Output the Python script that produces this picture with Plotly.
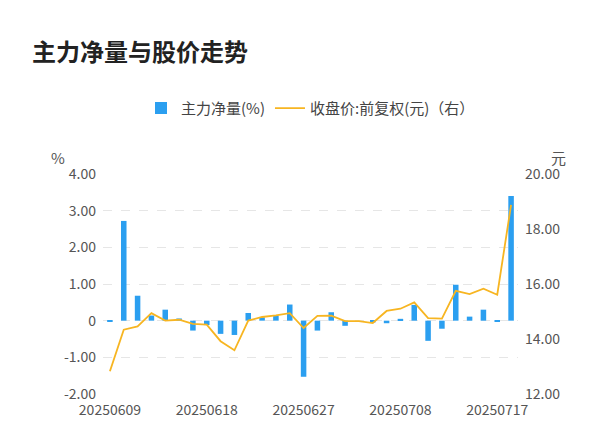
import plotly.graph_objects as go

# 交易日期
dates = ["20250609", "20250610", "20250611", "20250612", "20250613",
         "20250616", "20250617", "20250618", "20250619", "20250620",
         "20250623", "20250624", "20250625", "20250626", "20250627",
         "20250630", "20250701", "20250702", "20250703", "20250704",
         "20250707", "20250708", "20250709", "20250710", "20250711",
         "20250714", "20250715", "20250716", "20250717", "20250718"]
# 主力净量(%)
net_vol = [-0.03, 2.72, 0.68, 0.14, 0.30, 0.06, -0.27, -0.12, -0.36, -0.39,
           0.21, 0.09, 0.14, 0.44, -1.53, -0.27, 0.23, -0.14, 0.0, -0.05,
           -0.07, 0.05, 0.43, -0.55, -0.22, 0.98, 0.11, 0.30, -0.02, 3.40]
# 收盘价:前复权(元)
price = [12.83, 14.34, 14.46, 14.94, 14.67, 14.70, 14.55, 14.52, 13.92, 13.59,
         14.67, 14.80, 14.86, 14.94, 14.40, 14.84, 14.85, 14.65, 14.65, 14.58,
         15.02, 15.10, 15.33, 14.76, 14.74, 15.75, 15.63, 15.83, 15.61, 18.88]

left_ticks = [-2, -1, 0, 1, 2, 3, 4]
left_text = ["-2.00", "-1.00", "0", "1.00", "2.00", "3.00", "4.00"]
right_ticks = [12, 14, 16, 18, 20]
right_text = ["12.00", "14.00", "16.00", "18.00", "20.00"]
tick_dates = dates[0::7]

fig = go.Figure()
fig.add_trace(go.Bar(x=dates, y=net_vol, name="主力净量(%)",
                     marker=dict(color="#2b9ff0", line=dict(width=0)), width=0.4))
fig.add_trace(go.Scatter(x=dates, y=price, name="收盘价:前复权(元)（右）", yaxis="y2",
                         mode="lines", line=dict(color="#f7b521", width=1.8)))

fig.update_layout(
    width=600, height=446, plot_bgcolor="white", paper_bgcolor="white",
    font=dict(family="Noto Sans CJK SC, Roboto", color="#666666", size=14),
    margin=dict(l=95, r=90, t=166, b=60, autoexpand=False),
    title=dict(text="<b>主力净量与股价走势</b>", x=0.04, y=0.9, yref="container",
               xanchor="left", yanchor="middle",
               font=dict(size=24, color="#222222")),
    legend=dict(orientation="h", x=0.5, xanchor="center", y=0.775, yref="container",
                yanchor="middle", font=dict(size=15, color="#444444"), itemwidth=30),
    showlegend=True, bargap=0.5,
    xaxis=dict(type="category", tickmode="array", tickvals=tick_dates, ticktext=tick_dates,
               showgrid=False, ticks="", ticklabelstandoff=6,
               tickfont=dict(size=14, color="#555555")),
    yaxis=dict(range=[-2, 4], tickvals=left_ticks, ticktext=left_text, showgrid=True,
               gridcolor="#e6e6e6", griddash="dash", zeroline=False,
               ticklabelstandoff=6, tickfont=dict(size=14, color="#555555")),
    yaxis2=dict(range=[12, 20], tickvals=right_ticks, ticktext=right_text, overlaying="y",
                side="right", showgrid=False, zeroline=False, ticklabelstandoff=6,
                tickfont=dict(size=14, color="#555555")),
)
fig.add_annotation(text="%", xref="paper", yref="paper", x=-0.13, y=1.13, showarrow=False,
                   font=dict(size=15, color="#555555"))
fig.add_annotation(text="元", xref="paper", yref="paper", x=1.12, y=1.13, showarrow=False,
                   font=dict(size=15, color="#555555"))
fig.write_html("out.html")
